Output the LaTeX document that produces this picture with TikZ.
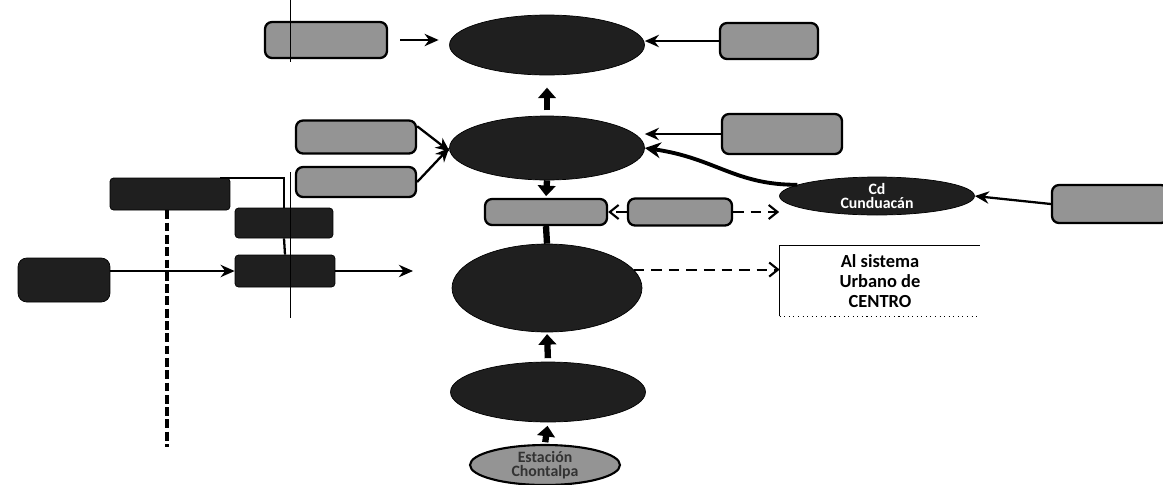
\documentclass[tikz,border=0pt]{standalone}
\usepackage{fontspec}
\setmainfont{Carlito}
\usetikzlibrary{shapes.geometric,arrows.meta,calc}
\begin{document}
\begin{tikzpicture}[x=0.02cm,y=-0.02cm,
  darkell/.style={ellipse,fill=black!88,draw=black,inner sep=0pt},
  lightell/.style={ellipse,fill=black!42,draw=black,line width=1.2pt,inner sep=0pt},
  darkbox/.style={rectangle,rounded corners=2pt,fill=black!88,draw=black,inner sep=0pt},
  lightbox/.style={rectangle,rounded corners=4pt,fill=black!42,draw=black,line width=1.3pt,inner sep=0pt},
  arr/.style={line width=1.3pt,-{Stealth[length=8pt,width=7pt]}},
  thickarr/.style={line width=3.6pt,-{Triangle[length=6pt,width=10pt]}},
  dasharr/.style={line width=1.2pt,dashed,dash pattern=on 6pt off 4pt,-{Straight Barb[length=5pt,width=8pt]}},
  conn/.style={line width=1.3pt},
  thin/.style={line width=0.5pt}]
\useasboundingbox (0,0) rectangle (1163,484);
% central column
\node[darkell,minimum width=3.9cm,minimum height=1.2cm] (E1) at (547,45) {};
\node[darkell,minimum width=3.9cm,minimum height=1.28cm] (E2) at (547,148) {};
\node[lightbox,minimum width=2.44cm,minimum height=0.52cm] (sb) at (546,212) {};
\node[darkell,minimum width=3.8cm,minimum height=1.76cm] (E3) at (547,288) {};
\node[darkell,minimum width=3.9cm,minimum height=1.2cm] (E4) at (548,392) {};
\node[lightell,minimum width=3.0cm,minimum height=0.8cm,font=\bfseries\small,align=center,text=black!80,inner sep=0pt] (E5) at (545,465) {Estación\\[-3pt]Chontalpa};
% boxes around
\node[lightbox,minimum width=2.44cm,minimum height=0.72cm] (tl) at (326,40) {};
\node[lightbox,minimum width=1.96cm,minimum height=0.72cm] (tr) at (769,41) {};
\node[lightbox,minimum width=2.4cm,minimum height=0.66cm] (lb1) at (356,137) {};
\node[lightbox,minimum width=2.4cm,minimum height=0.6cm] (lb2) at (356,182) {};
\node[lightbox,minimum width=2.4cm,minimum height=0.8cm] (rb) at (782,134) {};
\node[darkell,minimum width=3.9cm,minimum height=0.76cm,text=white,font=\bfseries\fontsize{9}{8}\selectfont,align=center] (cd) at (877,196) {Cd\\Cunduacán};
\node[lightbox,minimum width=2.32cm,minimum height=0.76cm] (fr) at (1110,204) {};
\node[lightbox,minimum width=2.08cm,minimum height=0.54cm] (vb) at (680,212) {};
\node[rectangle,minimum width=4.0cm,minimum height=1.4cm,font=\bfseries\fontsize{10.5}{11.5}\selectfont,align=center,inner sep=0pt] (als) at (880,281) {Al sistema\\Urbano de\\CENTRO};
\draw[line width=0.8pt] (als.south west) -- (als.north west) -- (als.north east);
\draw[line width=0.6pt,dotted] (als.south west) -- (als.south east);
% left group
\node[darkbox,minimum width=2.4cm,minimum height=0.64cm] (A) at (170,194) {};
\node[darkbox,minimum width=1.96cm,minimum height=0.6cm] (B) at (284,223) {};
\node[darkbox,minimum width=2.0cm,minimum height=0.64cm] (C) at (285,271) {};
\node[darkbox,rounded corners=5pt,minimum width=1.84cm,minimum height=0.88cm] (D) at (64,280) {};
\coordinate (cout) at (413,271);
\coordinate (dashend) at (167,447);
\coordinate (t1) at (290,0);
\coordinate (t2) at (290,62);
\coordinate (t3) at (290,172);
\coordinate (t4) at (290,318);
% connectors
\draw[arr,shorten <=7pt,shorten >=6pt] (tl.east) -- (E1.west |- tl.east);
\draw[arr] (tr.west) -- (E1.east |- tr.west);
\draw[thickarr,shorten <=3pt,shorten >=7pt] (E2.north) -- (E1.south);
\draw[arr] (lb1.10) -- (E2.182);
\draw[arr] (lb2.east) -- (E2.180);
\draw[arr] (rb.west) -- (E2.east |- rb.west);
\draw[line width=2.2pt,-{Stealth[length=9pt,width=9pt]}] (cd.172) .. controls (735,185) and (715,158) .. (E2.east);
\draw[arr] (fr.west) -- (cd.east);
\draw[thickarr,shorten >=1pt] (E2.south) -- (sb.north);
\draw[dasharr] (vb.west) -- (sb.east);
\draw[dasharr] (vb.east) -- (vb.east -| cd.west);
\draw[line width=3.6pt] (sb.south) -- (E3.north);
\draw[dasharr] (E3.12) -- (E3.12 -| als.west);
\draw[thickarr,shorten <=2pt,shorten >=1pt] (E4.north) -- (E3.south);
\draw[thickarr,shorten <=1pt,shorten >=2pt] (E5.north) -- (E4.south);
\draw[conn] (A.18) -| (B.north);
\draw[conn] (B.south) -- (C.north);
\draw[arr] (D.east |- C.west) -- (C.west);
\draw[arr] (C.east) -- (cout);
\draw[line width=2.2pt,dash pattern=on 5pt off 2pt] (A.south -| dashend) -- (dashend);
\draw[thin] (t1) -- (t2);
\draw[thin] (t3) -- (t4);
\end{tikzpicture}
\end{document}
